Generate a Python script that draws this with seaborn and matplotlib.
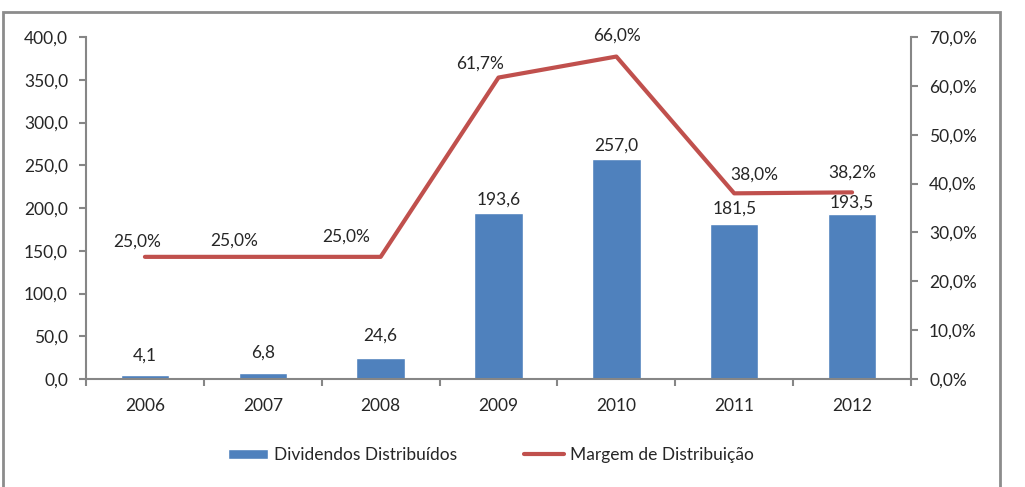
import numpy as np
import matplotlib
matplotlib.use("Agg")
import matplotlib.pyplot as plt
from matplotlib.patches import Rectangle
from matplotlib.ticker import FuncFormatter, MultipleLocator, FixedLocator
import seaborn as sns

# chart data
years = ['2006', '2007', '2008', '2009', '2010', '2011', '2012']
dividendos = [4.1, 6.8, 24.6, 193.6, 257.0, 181.5, 193.5]
margem = [25.0, 25.0, 25.0, 61.7, 66.0, 38.0, 38.2]

# label placement (pixels), as laid out in the original
bar_lbl_dy = [20, 21, 22, 14, 14, 15, 11]
pct_lbl_dx = [-8, -29, -34, -18, 1, 20, 0]
pct_lbl_dy = [15, 16, 20, 14, 21, 19, 20]

bar_color = '#4F81BD'
line_color = '#C0504D'
axis_gray = '#868686'
text_color = '#262626'
fs = 12.5

sns.set_style('white')
plt.rcParams['font.family'] = ['Lato', 'DejaVu Sans']
plt.rcParams['font.size'] = fs
plt.rcParams['text.color'] = text_color

def br(v, pct=False):
    s = f"{v:.1f}".replace('.', ',')
    return s + '%' if pct else s

fig = plt.figure(figsize=(10.25, 4.87), dpi=100)
ax = fig.add_axes([86 / 1025, 1 - 379 / 487, (911 - 86) / 1025, (379 - 37) / 487])

sns.barplot(x=years, y=dividendos, color=bar_color, width=0.41, saturation=1,
            ax=ax, label='Dividendos Distribuídos')
ax.set_xlim(-0.5, len(years) - 0.5)
ax.set_ylim(0, 400)
ax.yaxis.set_major_locator(MultipleLocator(50))
ax.yaxis.set_major_formatter(FuncFormatter(lambda v, p: br(v)))

for i, v in enumerate(dividendos):
    ax.annotate(br(v), (i, v), xytext=(0, bar_lbl_dy[i]), textcoords='offset pixels',
                ha='center', va='center', fontsize=fs, color=text_color)

ax2 = ax.twinx()
x_pos = np.arange(len(years))
sns.lineplot(x=x_pos, y=margem, color=line_color, linewidth=3, ax=ax2,
             label='Margem de Distribuição', legend=False)
ax2.set_ylim(0, 70)
ax2.yaxis.set_major_locator(MultipleLocator(10))
ax2.yaxis.set_major_formatter(FuncFormatter(lambda v, p: br(v, True)))
for i, v in enumerate(margem):
    ax2.annotate(br(v, True), (i, v), xytext=(pct_lbl_dx[i], pct_lbl_dy[i]),
                 textcoords='offset pixels', ha='center', va='center',
                 fontsize=fs, color=text_color)

# axes styling
for a in (ax, ax2):
    for s in a.spines.values():
        s.set_visible(False)
    a.set_xlabel('')
    a.set_ylabel('')
ax.spines['left'].set_visible(True)
ax.spines['bottom'].set_visible(True)
ax2.spines['right'].set_visible(True)
for s in (ax.spines['left'], ax.spines['bottom'], ax2.spines['right']):
    s.set_color(axis_gray)
    s.set_linewidth(1.5)

ax.tick_params(axis='y', length=5, width=1.5, color=axis_gray, direction='out',
               labelsize=fs, labelcolor=text_color, pad=8, left=True)
ax2.tick_params(axis='y', length=5, width=1.5, color=axis_gray, direction='out',
                labelsize=fs, labelcolor=text_color, pad=8, right=True)
ax.tick_params(axis='x', which='major', length=0, labelsize=fs,
               labelcolor=text_color, pad=14)
ax.xaxis.set_minor_locator(FixedLocator(np.arange(-0.5, len(years), 1.0)))
ax.tick_params(axis='x', which='minor', length=5, width=1.5, color=axis_gray,
               direction='out', bottom=True)
ax.grid(False)
ax2.grid(False)

# legend
h1, l1 = ax.get_legend_handles_labels()
h2, l2 = ax2.get_legend_handles_labels()
ax.legend(h1 + h2, l1 + l2, loc='center', bbox_to_anchor=(0.479, (487 - 455) / 487),
          bbox_transform=fig.transFigure, ncol=2, frameon=False, fontsize=fs,
          handlelength=2.3, handleheight=0.55, columnspacing=3.8, handletextpad=0.4)

# outer frame
fig.patches.append(Rectangle((3 / 1025, -0.05), (1000 - 3) / 1025, 1.05 - 12 / 487,
                             transform=fig.transFigure, fill=False,
                             edgecolor='#8c8c8c', linewidth=2))

fig.savefig('out.png', dpi=100)
